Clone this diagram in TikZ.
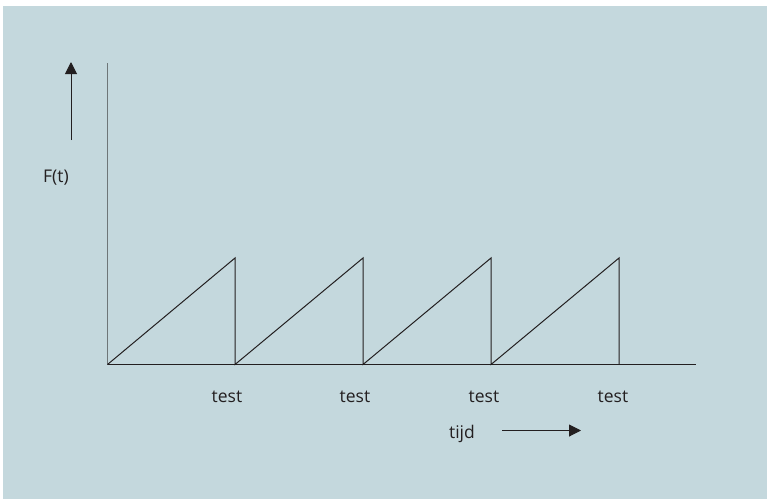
\documentclass[tikz,border=0pt]{standalone}
\usepackage{fontspec}
\setmainfont{Open Sans}
\usetikzlibrary{arrows.meta}
\definecolor{bgblue}{RGB}{196,216,221}
\definecolor{axisgray}{RGB}{110,118,120}
\definecolor{ink}{RGB}{35,31,32}
\tikzset{
  lbl/.style={font=\fontsize{17.5}{20}\selectfont, text=ink, anchor=base, inner sep=0pt},
  saw/.style={draw=ink, line width=1pt},
  bigarrow/.style={draw=ink, line width=1pt, -{Triangle[width=12pt,length=12pt]}}
}
\begin{document}
\begin{tikzpicture}[x=1pt,y=-1pt]
\useasboundingbox (0,0) rectangle (767,499);
\fill[white] (0,0) rectangle (767,499);
\fill[bgblue] (3,6) rectangle (767,499);
% axes
\coordinate (ytop) at (107.5,63);
\coordinate (o) at (107.5,364.5);
\coordinate (xend) at (696,364.5);
\draw[axisgray, line width=1.6pt] (o) -- (ytop);
\draw[saw] (o) -- (xend);
% sawtooth
\coordinate (b0) at (107.5,364.5);
\coordinate (p1) at (235,258);
\coordinate (b1) at (235,364.5);
\coordinate (p2) at (363,258);
\coordinate (b2) at (363,364.5);
\coordinate (p3) at (491,258);
\coordinate (b3) at (491,364.5);
\coordinate (p4) at (619,258);
\coordinate (b4) at (619,364.5);
\draw[saw, line join=miter] (b0) -- (p1) -- (b1) -- (p2) -- (b2) -- (p3) -- (b3) -- (p4) -- (b4);
% arrows
\coordinate (ya0) at (71,140);
\coordinate (ya1) at (71,62);
\draw[bigarrow] (ya0) -- (ya1);
\coordinate (xa0) at (502,430.5);
\coordinate (xa1) at (581,430.5);
\draw[bigarrow] (xa0) -- (xa1);
% labels
\node[lbl] (F) at (56,182) {F(t)};
\node[lbl] (t1) at (227,402) {test};
\node[lbl] (t2) at (355,402) {test};
\node[lbl] (t3) at (484,402) {test};
\node[lbl] (t4) at (613,402) {test};
\node[lbl] (tijd) at (462,438) {tijd};
\end{tikzpicture}
\end{document}
